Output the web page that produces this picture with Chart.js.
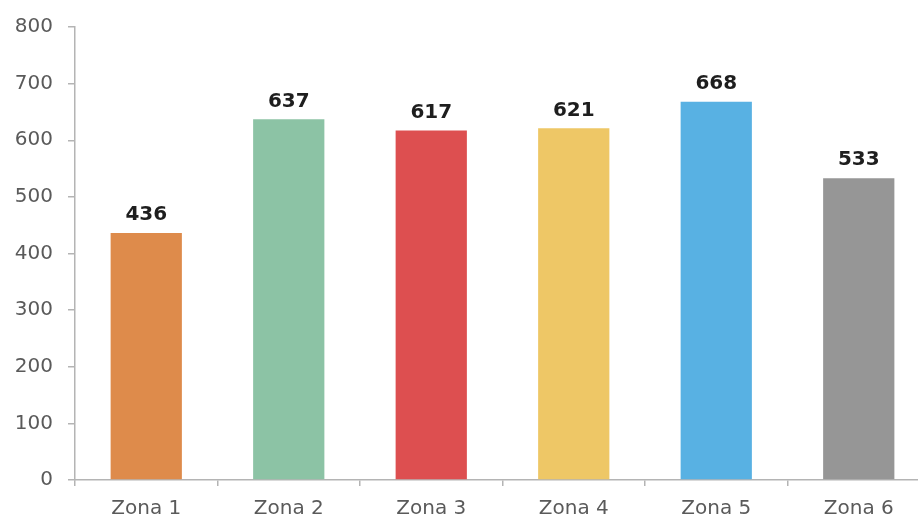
<!DOCTYPE html>
<html>
<head>
    <meta charset="utf-8">
    <title>Zonas</title>
    <script src="https://cdn.jsdelivr.net/npm/chart.js"></script>
    <style>
        html, body { margin: 0; padding: 0; background: #fff; overflow: hidden; }
        #wrap { width: 932px; height: 521px; position: relative; }
    </style>
</head>
<body>
<div id="wrap">
    <canvas id="zonasChart"></canvas>
</div>

<script>
    const zonas = ['Zona 1', 'Zona 2', 'Zona 3', 'Zona 4', 'Zona 5', 'Zona 6'];
    const valores = [436, 637, 617, 621, 668, 533];
    const colores = ['#DE8B4B', '#8CC3A5', '#DD4F50', '#EEC766', '#58B1E3', '#969696'];

    const ejeColor = '#b4b4b4';
    const textoColor = '#5a5a5a';

    // valores encima de cada barra
    const etiquetas = {
        id: 'etiquetas',
        afterDatasetsDraw(chart) {
            const ctx = chart.ctx;
            const meta = chart.getDatasetMeta(0);
            ctx.save();
            ctx.font = 'bold 20px "DejaVu Sans", sans-serif';
            ctx.fillStyle = '#1e1e1e';
            ctx.textAlign = 'center';
            ctx.textBaseline = 'bottom';
            meta.data.forEach((bar, i) => {
                ctx.fillText(valores[i], bar.x, bar.y - 8);
            });
            ctx.restore();
        }
    };

    const ctx = document.getElementById('zonasChart').getContext('2d');
    const chart = new Chart(ctx, {
        type: 'bar',
        data: {
            labels: zonas,
            datasets: [{
                data: valores,
                backgroundColor: colores,
                borderWidth: 0,
                barPercentage: 0.5,
                categoryPercentage: 1
            }]
        },
        options: {
            responsive: true,
            maintainAspectRatio: false,
            animation: false,
            layout: { padding: { top: 21, right: 2, left: 0, bottom: 0 } },
            plugins: {
                legend: { display: false },
                tooltip: { enabled: false }
            },
            scales: {
                x: {
                    afterFit: s => { s.height = 41; },
                    border: { color: ejeColor, width: 1.5 },
                    grid: {
                        offset: true,
                        drawOnChartArea: false,
                        drawTicks: true,
                        tickLength: 6,
                        color: ejeColor,
                        lineWidth: 1.5
                    },
                    ticks: {
                        color: textoColor,
                        padding: 11,
                        font: { family: '"DejaVu Sans", sans-serif', size: 20 }
                    }
                },
                y: {
                    min: 0,
                    max: 800,
                    afterFit: s => { s.width = 75; },
                    border: { color: ejeColor, width: 1.5 },
                    grid: {
                        drawOnChartArea: false,
                        drawTicks: true,
                        tickLength: 7,
                        color: ejeColor,
                        lineWidth: 1.5
                    },
                    ticks: {
                        stepSize: 100,
                        color: textoColor,
                        padding: 15,
                        font: { family: '"DejaVu Sans", sans-serif', size: 20 }
                    }
                }
            }
        },
        plugins: [etiquetas]
    });
</script>
</body>
</html>
